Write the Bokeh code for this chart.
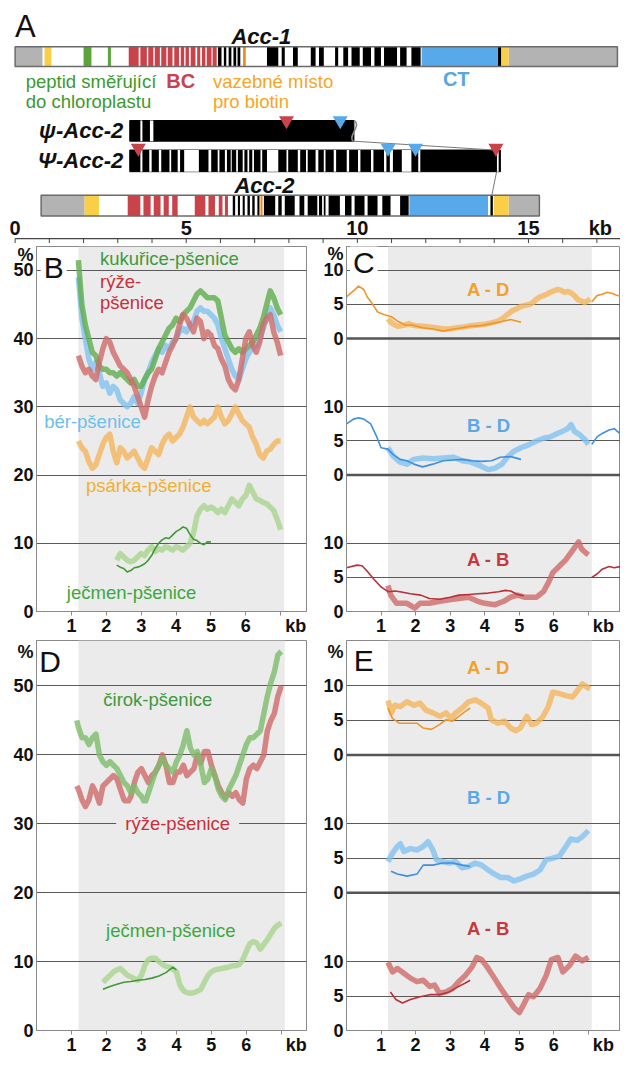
from bokeh.plotting import figure
from bokeh.models import Range1d, Label, BoxAnnotation, Span, FixedTicker
from bokeh.layouts import column, row
from bokeh.embed import file_html
from bokeh.resources import INLINE
from bokeh.core.properties import value

FONT = "Liberation Sans"
NAN = float("nan")

# ---------------- Panel A : gene maps (positions in kb) ----------------
ACC1_SPAN = (0.0, 17.6)
ACC1_GRAY = [(0.0, 0.8), (14.42, 17.6)]
ACC1_YELLOW = [(0.86, 1.06), (14.2, 14.42)]
ACC1_GREEN = [(2.0, 2.23), (2.71, 2.8)]
ACC1_RED = [(3.32, 3.61), (3.66, 3.85), (3.89, 4.04), (4.08, 4.23), (4.27, 4.42), (4.46, 4.60),
            (4.65, 4.79), (4.84, 4.94), (4.98, 5.08), (5.13, 5.27), (5.32, 5.41), (5.46, 5.56),
            (5.60, 5.74), (5.77, 5.89)]
ACC1_BLACK = [(5.93, 6.03), (6.10, 6.17), (6.24, 6.32), (6.38, 6.46), (6.50, 6.58),
              (7.36, 7.69), (7.79, 7.88), (8.12, 8.26), (8.64, 8.78), (8.88, 9.02), (9.35, 9.44),
              (9.59, 9.73), (9.83, 10.07), (10.16, 10.40), (10.50, 10.69), (10.78, 11.16),
              (11.25, 11.44), (11.58, 11.85), (14.1, 14.2)]
ACC1_ORANGE = [(6.66, 6.74)]
ACC1_BLUE = [(11.88, 14.1)]

PSI_S_SPAN = (3.35, 9.9)
PSI_S_WHITE = [(3.66, 3.72), (3.94, 4.04)]
PSI_S_TRI_RED = [7.93]
PSI_S_TRI_BLUE = [9.5]

PSI_C_SPAN = (3.35, 14.18)
PSI_C_WHITE = [(3.66, 3.72), (3.92, 3.99), (4.20, 4.27), (4.51, 4.56), (4.75, 4.82), (4.94, 5.37),
               (5.65, 5.73), (5.92, 5.97), (6.13, 6.19), (6.30, 6.33), (6.46, 6.51), (6.65, 6.70),
               (6.79, 6.84), (6.93, 6.98), (7.17, 7.22), (7.36, 7.69), (7.93, 7.98), (8.26, 8.33),
               (8.50, 8.55), (8.78, 8.86), (9.02, 9.07), (9.31, 9.38), (9.69, 9.76), (10.02, 10.09),
               (10.40, 10.47), (10.78, 10.85), (10.95, 11.04), (11.30, 11.58), (11.78, 11.84),
               (14.08, 14.13)]
PSI_C_TRI_RED = [3.6, 14.05]
PSI_C_TRI_BLUE = [10.9, 11.7]

ACC2_SPAN = (0.76, 15.32)
ACC2_GRAY = [(0.76, 2.03), (14.42, 15.32)]
ACC2_YELLOW = [(2.03, 2.45), (13.99, 14.42)]
ACC2_RED = [(3.29, 3.66), (3.75, 3.96), (4.05, 4.25), (4.34, 4.49), (4.59, 4.75), (5.25, 5.56),
            (5.65, 5.84), (5.95, 6.06), (6.13, 6.22)]
ACC2_BLACK = [(6.36, 6.43), (6.51, 6.57), (6.65, 6.71), (6.79, 6.86), (6.93, 7.0), (7.08, 7.14),
              (7.27, 7.6), (7.69, 7.79), (7.88, 8.17), (8.31, 8.45), (8.55, 8.83), (8.88, 8.97),
              (9.02, 9.07), (9.16, 9.49), (9.64, 9.83), (9.92, 10.21), (10.3, 10.59), (10.73, 10.97),
              (11.25, 11.5), (13.89, 13.96)]
ACC2_ORANGE = [(7.17, 7.23)]
ACC2_BLUE = [(11.52, 13.82)]

KB_TICKS = list(range(0, 18))
KB_LABEL_POS = [0, 5, 10, 15, 17.1]
KB_LABEL_TXT = ["0", "5", "10", "15", "kb"]

# ---------------- Panel B ----------------
KB_B = [1.2, 1.3, 1.4, 1.5, 1.6, 1.7, 1.8, 1.9, 2.0, 2.1,
        2.2, 2.3, 2.4, 2.5, 2.6, 2.7, 2.8, 2.9, 3.0, 3.1,
        3.2, 3.3, 3.4, 3.5, 3.6, 3.7, 3.8, 3.9, 4.0, 4.1,
        4.2, 4.3, 4.4, 4.5, 4.6, 4.7, 4.8, 4.9, 5.0, 5.1,
        5.2, 5.3, 5.4, 5.5, 5.6, 5.7, 5.8, 5.9, 6.0, 6.1,
        6.2, 6.3, 6.4, 6.5, 6.6, 6.7, 6.8, 6.9, 7.0]
B_MAIZE = [51.5, 45, 42, 40, 38, 37.5, 36, 35.5, 35.5, 35,
           35, 34.5, 35, 34.5, 34, 33.5, 34, 33, 33, 34,
           35, 35.5, 37, 38.5, 39.5, 40.5, 41.5, 42, 43, 42.5,
           43.5, 44, 44.5, 45.5, 46.5, 47, 46.5, 46, 46, 46,
           45.5, 43, 40.5, 39.5, 38.5, 38, 38.5, 38, 38.5, 39,
           39.5, 40.5, 41.5, 43, 45, 47, 46, 44.5, 43.5]
B_BARNYARD = [49, 43, 40, 37, 35.5, 36.5, 35, 33, 33.5, 32,
              33, 32.5, 31, 30.5, 30, 30.5, 31.5, 30.5, 32, 34,
              35, 36.5, 37.5, 38.5, 38, 39, 38.5, 39.5, 40, 41,
              41.5, 41, 42, 42.5, 44, 44.5, 44, 44, 43.5, 43,
              42, 40, 38.5, 37, 35.5, 34.5, 34, 35.5, 37, 38,
              38.5, 39, 40, 41.5, 43, 44.5, 43.5, 42, 41]
B_RICE = [37.5, 36, 35, 35.5, 34.5, 34, 36.5, 38.5, 40, 39.5,
          38, 37, 36, 35.5, 35, 34, 33, 31.5, 30, 28.5,
          31, 33, 34.5, 35.5, 35, 36.5, 38, 39, 40, 42,
          43.5, 43, 42, 41, 43, 42.5, 40, 41, 40.5, 39,
          38.5, 37, 36, 34, 33, 32.5, 34, 37, 40, 41,
          39, 38, 39.5, 42, 43, 43.5, 41, 39.5, 37.5]
B_FOXTAIL = [25, 24, 23.5, 22, 21, 21.5, 23, 24.5, 25.5, 26,
             23.5, 21.8, 24, 23.5, 22.5, 23, 23.5, 22.5, 21.5, 21,
             22.5, 24, 23.5, 23, 24.5, 25.5, 26, 25, 25.5, 26,
             27, 28.5, 30, 28.5, 28, 27.5, 28, 27.5, 28, 28.5,
             30, 28.5, 27.5, 28, 29, 30, 29, 28, 27.5, 27,
             25.5, 24.5, 23, 22.5, 23.5, 23.8, 24.5, 25, 25]
KB_B_BARLEY = [2.3, 2.4, 2.5, 2.6, 2.7, 2.8, 2.9, 3.0, 3.1, 3.2,
               3.3, 3.4, 3.5, 3.6, 3.7, 3.8, 3.9, 4.0, 4.1, 4.2,
               4.3, 4.4, 4.5, 4.6, 4.7, 4.8, 4.9, 5.0, 5.1, 5.2,
               5.3, 5.4, 5.5, 5.6, 5.7, 5.8, 5.9, 6.0, 6.1, 6.2,
               6.3, 6.4, 6.5, 6.6, 6.7, 6.8, 6.9, 7.0]
B_BARLEY = [7.5, 8.5, 8.0, 7.5, 7.3, 7.5, 8.0, 8.5, 8.2, 9.0,
            9.5, 8.8, 9.2, 9.0, 9.5, 9.3, 9.0, 9.5, 9.3, 9.0,
            9.5, 10.0, 11.5, 14.0, 15.0, 15.5, 15.0, 15.3, 15.0, 14.5,
            15.0, 14.5, 15.5, 16.5, 16.0, 15.5, 16.5, 17.0, 18.5, 17.5,
            16.5, 16.3, 16.0, 15.8, 15.3, 14.8, 13.5, 12.0]
KB_B_BARLEY_THIN = [2.3, 2.4, 2.5, 2.6, 2.7, 2.8, 2.9, 3.0, 3.1, 3.2,
                    3.3, 3.4, 3.5, 3.6, 3.7, 3.8, 3.9, 4.0, 4.1, 4.2,
                    4.3, 4.4, 4.5, 4.6, 4.7, 4.8, 4.9, 5.0]
B_BARLEY_THIN = [6.8, 6.5, 6.3, 5.8, 6.0, 6.4, 6.5, 6.7, 7.0, 7.5,
                 8.2, 9.2, 10.0, 10.5, 10.8, 10.7, 11.2, 11.7, 12.0, 12.4,
                 12.2, 11.3, 10.6, 10.4, 10.0, 9.8, 10.2, 10.2]

# ---------------- Panel C (homoeologue divergence, %) ----------------
C_AD_THIN_X = [0.0, 0.2, 0.35, 0.5, 0.6, 0.75, 0.9, 1.1, 1.3, 1.5, 1.7, 1.9, 2.2, 2.5, 2.8, 3.1,
               3.35, 3.6, 3.9, 4.2, 4.5, 4.75, 5.05, NAN, 7.1, 7.25, 7.4, 7.55, 7.7, 7.8, 7.93]
C_AD_THIN_Y = [6.1, 7.0, 7.7, 7.2, 6.1, 5.1, 3.9, 3.5, 3.2, 2.5, 2.0, 2.0, 1.6, 1.4, 1.1, 1.4,
               1.6, 1.8, 1.9, 2.2, 2.5, 2.8, 2.4, NAN, 5.4, 6.3, 6.5, 6.8, 6.6, 6.4, 6.2]
C_AD_X = [1.2, 1.3, 1.4, 1.5, 1.6, 1.7, 1.8, 1.9, 2.0, 2.2, 2.4, 2.6, 2.8, 3.0, 3.2, 3.4, 3.6,
          3.8, 4.0, 4.2, 4.4, 4.5, 4.6, 4.7, 4.8, 4.9, 5.0, 5.1, 5.2, 5.3, 5.4, 5.5, 5.6, 5.7,
          5.8, 5.9, 6.0, 6.1, 6.2, 6.3, 6.4, 6.5, 6.6, 6.7, 6.8, 6.9, 7.0, 7.05]
C_AD_Y = [2.9, 2.3, 2.0, 1.8, 1.9, 2.0, 2.2, 2.0, 1.9, 1.8, 1.7, 1.6, 1.4, 1.4, 1.6, 1.7, 1.9,
          2.0, 2.1, 2.3, 2.6, 2.9, 3.3, 3.7, 4.1, 4.3, 4.6, 4.8, 4.9, 5.0, 5.3, 5.8, 6.1, 6.3,
          6.5, 6.8, 7.0, 7.2, 7.1, 6.8, 6.9, 6.7, 6.3, 5.7, 5.5, 5.3, 5.6, 5.8]
C_BD_THIN_X = [0.0, 0.2, 0.35, 0.5, 0.7, 0.85, 1.0, 1.2, 1.35, 1.55, 1.75, 1.95, 2.2, 2.5, 2.8,
               3.1, 3.35, 3.6, 3.9, 4.2, 4.45, 4.75, 5.05, NAN, 7.1, 7.25, 7.4, 7.6, 7.75, 7.93]
C_BD_THIN_Y = [7.5, 8.2, 8.4, 8.2, 7.5, 5.9, 4.0, 3.8, 3.0, 2.3, 2.1, 1.6, 1.2, 1.6, 2.1,
               2.2, 2.3, 2.1, 2.0, 2.1, 2.6, 2.7, 2.3, NAN, 4.5, 5.6, 6.1, 6.6, 6.8, 6.0]
C_BD_X = [1.2, 1.35, 1.55, 1.75, 1.95, 2.2, 2.5, 2.8, 3.1, 3.35, 3.6, 3.9, 4.1, 4.3, 4.5, 4.65,
          4.85, 5.05, 5.3, 5.5, 5.7, 5.9, 6.1, 6.25, 6.4, 6.5, 6.6, 6.75, 6.9, 7.0]
C_BD_Y = [4.0, 2.8, 1.9, 1.6, 2.3, 2.5, 2.4, 2.5, 2.6, 2.1, 1.9, 1.3, 0.8, 1.0, 1.6, 2.6,
          3.5, 4.0, 4.5, 5.0, 5.4, 5.6, 6.1, 6.4, 6.8, 7.4, 6.4, 5.9, 5.2, 4.5]
C_AB_THIN_X = [0.0, 0.3, 0.45, 0.6, 0.8, 1.0, 1.2, 1.4, 1.55, 1.85, 2.15, 2.4, 2.7, 3.0, 3.25,
               3.55, 3.8, 4.1, 4.4, 4.6, 4.75, 4.95, 5.13, NAN, 7.1, 7.25, 7.4, 7.6, 7.75, 7.93]
C_AB_THIN_Y = [6.4, 6.8, 6.7, 5.9, 4.7, 3.6, 2.9, 3.0, 2.9, 2.6, 2.4, 1.9, 1.8, 2.1, 2.4,
               2.5, 2.6, 2.7, 2.9, 3.1, 3.0, 2.5, 2.3, NAN, 5.0, 5.5, 6.2, 6.6, 6.4, 6.6]
C_AB_X = [1.2, 1.28, 1.45, 1.75, 1.98, 2.13, 2.4, 2.7, 2.97, 3.25, 3.53, 3.8, 4.0, 4.3, 4.55,
          4.75, 4.95, 5.15, 5.3, 5.5, 5.7, 5.85, 5.97, 6.15, 6.35, 6.55, 6.72, 6.8, 6.9, 7.0]
C_AB_Y = [3.8, 2.4, 1.2, 1.2, 0.5, 1.2, 1.2, 1.5, 1.7, 1.9, 2.1, 1.5, 1.2, 1.0, 1.5,
          2.1, 2.4, 2.1, 2.1, 2.1, 2.9, 4.3, 5.7, 6.6, 7.6, 9.0, 10.2, 9.2, 8.7, 8.3]

# ---------------- Panel D ----------------
KB_D = [1.15, 1.2, 1.3, 1.4, 1.5, 1.6, 1.7, 1.8, 1.9, 2.0, 2.1,
        2.2, 2.3, 2.4, 2.5, 2.6, 2.7, 2.8, 2.9, 3.0, 3.1,
        3.2, 3.3, 3.4, 3.5, 3.6, 3.7, 3.8, 3.9, 4.0, 4.1,
        4.2, 4.3, 4.4, 4.5, 4.6, 4.7, 4.8, 4.9, 5.0, 5.1,
        5.2, 5.3, 5.4, 5.5, 5.6, 5.7, 5.8, 5.9, 6.0, 6.1,
        6.2, 6.3, 6.4, 6.5, 6.6, 6.7, 6.8, 6.9, 7.0]
D_SORGHUM = [45, 44, 42.5, 42.5, 41.5, 42.5, 43, 40, 39, 38.5, 39,
             38.5, 38, 37, 36, 35.5, 34.5, 35.5, 34.5, 34, 33,
             34.5, 36, 37.5, 38.5, 39.5, 38.5, 38, 37.5, 39, 40,
             41.5, 43.5, 41, 40, 40.5, 38.5, 36, 36.5, 38, 37,
             35, 34, 33.5, 35, 36, 37, 38.5, 40, 41.5, 42.5,
             42.5, 43, 43.5, 46, 48.5, 50.5, 52, 54.5, 55]
D_RICE = [35.5, 35, 33.5, 32.5, 33.5, 35.5, 34.5, 33, 35.5, 36, 36.5,
          37, 36.5, 35, 33.5, 33, 34, 36, 37.5, 38, 37,
          36, 37, 37.5, 38.5, 40, 38.5, 36, 36, 37.5, 37.5,
          38.5, 37, 37.5, 38, 40, 38.8, 40.5, 40.5, 38.5, 37,
          35.5, 34.5, 33.8, 34.5, 34, 34.5, 33.5, 33, 36.5, 38,
          38.5, 38, 39, 40, 43.5, 45, 46, 48.5, 50]
KB_D_BARLEY = [1.9, 2.0, 2.1, 2.2, 2.3, 2.4, 2.5, 2.6, 2.7, 2.8,
               2.9, 3.0, 3.1, 3.2, 3.3, 3.4, 3.5, 3.6, 3.7, 3.8,
               3.9, 4.0, 4.1, 4.2, 4.3, 4.4, 4.5, 4.6, 4.7, 4.8,
               4.9, 5.0, 5.1, 5.2, 5.3, 5.4, 5.5, 5.6, 5.7, 5.8,
               5.9, 6.0, 6.1, 6.2, 6.3, 6.4, 6.5, 6.6, 6.7, 6.8,
               6.9, 7.0]
D_BARLEY = [7.0, 7.5, 8.0, 8.5, 8.8, 9.0, 8.5, 8.0, 7.8, 7.5,
            7.3, 8.0, 9.5, 10.3, 10.5, 10.5, 10.0, 9.6, 9.3, 9.2,
            8.9, 8.5, 6.6, 5.8, 5.5, 5.4, 5.5, 5.7, 6.0, 7.0,
            8.0, 8.5, 8.8, 8.9, 9.0, 9.1, 9.2, 9.4, 9.4, 9.6,
            10.3, 11.5, 12.6, 12.9, 12.7, 11.8, 12.5, 13.2, 14.0, 14.8,
            15.3, 15.6]
KB_D_BARLEY_THIN = [1.9, 2.1, 2.3, 2.5, 2.7, 2.9, 3.1, 3.3, 3.5, 3.7, 3.8, 3.9, 4.0]
D_BARLEY_THIN = [6.0, 6.4, 6.7, 7.0, 7.1, 7.3, 7.4, 7.6, 7.9, 8.4, 8.8, 9.2, 8.8]

# ---------------- Panel E ----------------
E_AD_X = [1.2, 1.3, 1.4, 1.55, 1.75, 1.95, 2.13, 2.3, 2.5, 2.7, 2.88, 3.02, 3.16, 3.35, 3.53,
          3.72, 3.9, 4.1, 4.19, 4.38, 4.57, 4.75, 4.9, 5.03, 5.22, 5.36, 5.5, 5.69, 5.84, 5.97,
          6.16, 6.35, 6.54, 6.68, 6.83, 6.97, 7.05]
E_AD_Y = [7.9, 6.1, 7.2, 7.0, 7.7, 7.2, 7.5, 6.5, 6.1, 5.6, 6.1, 5.3, 6.1, 6.8, 7.7,
          8.0, 7.5, 6.8, 5.1, 4.6, 4.9, 3.9, 3.5, 3.9, 5.6, 4.4, 4.6, 5.6, 7.0, 9.1,
          8.9, 8.6, 8.4, 9.3, 10.3, 9.8, 9.6]
E_AD_THIN_X = [1.2, 1.33, 1.52, 1.75, 2.04, 2.22, 2.46, 2.69, 2.88, 3.07, 3.25, 3.44, 3.58]
E_AD_THIN_Y = [6.8, 5.3, 4.6, 4.6, 4.6, 3.9, 3.7, 4.4, 5.1, 4.9, 5.6, 6.3, 6.8]
E_BD_X = [1.2, 1.33, 1.47, 1.56, 1.66, 1.85, 2.04, 2.22, 2.36, 2.5, 2.6, 2.78, 2.97, 3.16, 3.35,
          3.53, 3.72, 3.91, 4.1, 4.28, 4.47, 4.66, 4.85, 5.03, 5.22, 5.41, 5.6, 5.78, 5.97, 6.16,
          6.35, 6.49, 6.68, 6.82, 7.0]
E_BD_Y = [4.5, 5.7, 6.7, 7.1, 6.0, 6.4, 6.2, 6.7, 7.4, 6.2, 4.8, 4.5, 4.3, 4.5, 3.6,
          3.8, 4.3, 4.0, 3.3, 2.7, 2.2, 2.2, 1.7, 2.0, 2.4, 2.7, 3.3, 4.8, 5.0, 5.3,
          6.7, 7.8, 7.6, 8.1, 9.0]
E_BD_THIN_X = [1.29, 1.47, 1.75, 2.04, 2.22, 2.5, 2.78, 3.07, 3.35, 3.58]
E_BD_THIN_Y = [3.1, 2.7, 2.4, 2.7, 4.0, 4.0, 4.3, 4.3, 4.0, 3.8]
E_AB_X = [1.2, 1.33, 1.47, 1.66, 1.85, 2.04, 2.22, 2.41, 2.55, 2.69, 2.88, 3.07, 3.25, 3.44, 3.63,
          3.77, 3.91, 4.1, 4.28, 4.47, 4.66, 4.85, 5.0, 5.13, 5.27, 5.41, 5.6, 5.78, 5.93, 6.12,
          6.26, 6.45, 6.63, 6.82, 7.0]
E_AB_Y = [9.9, 8.5, 9.0, 8.3, 7.6, 7.1, 7.3, 6.4, 6.6, 5.4, 5.6, 6.1, 7.1, 8.0, 9.2,
          10.6, 10.3, 9.0, 7.6, 6.1, 4.7, 3.3, 2.6, 3.8, 5.2, 4.9, 6.1, 8.0, 10.3, 10.6,
          8.5, 9.4, 10.8, 10.1, 10.6]
E_AB_THIN_X = [1.27, 1.43, 1.62, 1.85, 2.13, 2.41, 2.69, 2.97, 3.25, 3.44, 3.58]
E_AB_THIN_Y = [5.6, 4.5, 4.0, 4.5, 4.9, 5.2, 5.2, 5.6, 6.4, 6.9, 7.3]

# ---------------- colours ----------------
C_GRAY, C_YEL, C_GRN, C_RED, C_ORG, C_BLU = "#b3b3b3", "#f8cf46", "#5ca53c", "#c9434b", "#f38b1d", "#58a9ea"
T_GREEN, T_LGREEN, T_BLUE, T_RED, T_ORANGE = "#5fae4e", "#a9d48f", "#82c2f0", "#cf6a6a", "#f4b55c"
N_GREEN, N_BLUE, N_RED, N_ORANGE = "#3f9a35", "#3f8fde", "#b8303a", "#f0952a"
GRID = "#5a5a5a"
FRAME = "#8a8a8a"
SHADE = "#ebebeb"
KB_TXT = "\u00a0" * 6 + "kb"

# ======================= Panel A =======================
Y_ACC1 = (47, 67)
Y_PSI_S = (122, 143)
Y_PSI_C = (152, 174)
Y_ACC2 = (198, 219)
Y_AXIS = 242

pA = figure(width=620, height=243, x_range=Range1d(-0.427, 17.69), y_range=Range1d(247, 0),
            x_axis_location=None, y_axis_location=None, output_backend="svg",
            toolbar_location=None, min_border=0, outline_line_color=None)
pA.xgrid.visible = False
pA.ygrid.visible = False


def blocks(p, lst, yy, color):
    if not lst:
        return
    p.quad(left=[a for a, b in lst], right=[b for a, b in lst],
           top=[yy[0]] * len(lst), bottom=[yy[1]] * len(lst),
           fill_color=color, line_color=None)


def frame_box(p, span, yy, fill, line, width=1.5):
    p.quad(left=[span[0]], right=[span[1]], top=[yy[0]], bottom=[yy[1]],
           fill_color=fill, line_color=line, line_width=width)


frame_box(pA, ACC1_SPAN, Y_ACC1, "white", None)
for lst, col in [(ACC1_GRAY, C_GRAY), (ACC1_YELLOW, C_YEL), (ACC1_GREEN, C_GRN), (ACC1_RED, C_RED),
                 (ACC1_BLACK, "black"), (ACC1_ORANGE, C_ORG), (ACC1_BLUE, C_BLU)]:
    blocks(pA, lst, Y_ACC1, col)
frame_box(pA, ACC1_SPAN, Y_ACC1, None, "#6b6b6b")

frame_box(pA, PSI_S_SPAN, Y_PSI_S, "black", "black", 1)
blocks(pA, PSI_S_WHITE, Y_PSI_S, "white")
pA.bezier(x0=[PSI_S_SPAN[1]], y0=[Y_PSI_S[0]], x1=[PSI_S_SPAN[1] - 0.02], y1=[Y_PSI_S[1]],
          cx0=[PSI_S_SPAN[1] + 0.25], cy0=[Y_PSI_S[0] + 5], cx1=[PSI_S_SPAN[1] - 0.2], cy1=[Y_PSI_S[1] - 5],
          line_color="#8a8a8a", line_width=1.5)

frame_box(pA, PSI_C_SPAN, Y_PSI_C, "black", "black", 1)
blocks(pA, PSI_C_WHITE, Y_PSI_C, "white")

frame_box(pA, ACC2_SPAN, Y_ACC2, "white", None)
for lst, col in [(ACC2_GRAY, C_GRAY), (ACC2_YELLOW, C_YEL), (ACC2_RED, C_RED),
                 (ACC2_BLACK, "black"), (ACC2_ORANGE, C_ORG), (ACC2_BLUE, C_BLU)]:
    blocks(pA, lst, Y_ACC2, col)
frame_box(pA, ACC2_SPAN, Y_ACC2, None, "#6b6b6b")

pA.segment(x0=[PSI_S_SPAN[1] - 0.02, 14.07], y0=[Y_PSI_S[1], Y_PSI_C[1]],
           x1=[14.0, 13.93], y1=[Y_PSI_C[0], Y_ACC2[0]], line_color="#7a7a7a", line_width=1)

pA.scatter(PSI_S_TRI_RED, [Y_PSI_S[0]] * len(PSI_S_TRI_RED), marker="inverted_triangle", size=15,
           fill_color=C_RED, line_color=None)
pA.scatter(PSI_S_TRI_BLUE, [Y_PSI_S[0]] * len(PSI_S_TRI_BLUE), marker="inverted_triangle", size=15,
           fill_color=C_BLU, line_color=None)
pA.scatter(PSI_C_TRI_RED, [Y_PSI_C[0] - 2] * len(PSI_C_TRI_RED), marker="inverted_triangle", size=15,
           fill_color=C_RED, line_color=None)
pA.scatter(PSI_C_TRI_BLUE, [Y_PSI_C[0] - 2] * len(PSI_C_TRI_BLUE), marker="inverted_triangle", size=15,
           fill_color=C_BLU, line_color=None)

pA.segment(x0=[0], y0=[Y_AXIS], x1=[17.69], y1=[Y_AXIS], line_color="#444444", line_width=1.2)
pA.segment(x0=KB_TICKS, y0=[Y_AXIS] * len(KB_TICKS), x1=KB_TICKS, y1=[Y_AXIS + 5] * len(KB_TICKS),
           line_color="#444444", line_width=1)
pA.text(x=KB_LABEL_POS, y=[231] * len(KB_LABEL_POS), text=KB_LABEL_TXT, text_font=value(FONT),
        text_font_size="20px", text_font_style="bold", text_align="center", text_baseline="middle",
        text_color="#111111")


def atext(p, x, y, t, color, size, style="normal", align="left"):
    p.text(x=[x], y=[y], text=[t], text_font=value(FONT), text_font_size=size,
           text_font_style=style, text_color=color, text_align=align, text_baseline="middle")


atext(pA, 0.0, 26, "A", "#111111", "31px")
atext(pA, 6.32, 37, "Acc-1", "#111111", "22px", "bold italic")
atext(pA, 0.31, 82, "peptid směřující", "#3a9a2e", "18.5px")
atext(pA, 0.31, 103, "do chloroplastu", "#3a9a2e", "18.5px")
atext(pA, 4.42, 82, "BC", C_RED, "20px", "bold")
atext(pA, 5.78, 82, "vazebné místo", "#f5a623", "18.5px")
atext(pA, 5.78, 103, "pro biotin", "#f5a623", "18.5px")
atext(pA, 12.5, 80, "CT", "#5aa6e0", "20px", "bold")
atext(pA, 3.16, 132, "ψ-Acc-2", "#111111", "22px", "bold italic", "right")
atext(pA, 3.16, 163, "Ψ-Acc-2", "#111111", "22px", "bold italic", "right")
atext(pA, 6.41, 188, "Acc-2", "#111111", "22px", "bold italic")


# ======================= Panels B–E =======================
def panel(width, height, xr, yr, bl, br, bt, bb):
    p = figure(width=width, height=height, x_range=Range1d(*xr), y_range=Range1d(*yr),
               output_backend="svg", toolbar_location=None,
               min_border_left=bl, min_border_right=br, min_border_top=bt, min_border_bottom=bb,
               outline_line_color=FRAME, outline_line_width=1)
    p.xgrid.visible = False
    p.ygrid.grid_line_color = GRID
    p.ygrid.grid_line_width = 1.2
    p.xaxis.ticker = FixedTicker(ticks=[1, 2, 3, 4, 5, 6, 7])
    p.xaxis.major_label_overrides = {7: KB_TXT}
    for ax in (p.xaxis, p.yaxis):
        ax.minor_tick_line_color = None
        ax.major_tick_in = 0
        ax.axis_line_color = FRAME
        ax.major_tick_line_color = FRAME
        ax.major_label_text_font = FONT
        ax.major_label_text_font_style = "bold"
        ax.major_label_text_font_size = "18px"
        ax.major_label_text_color = "#111111"
    p.xaxis.major_tick_out = 4
    p.xaxis.major_label_standoff = 0
    p.yaxis.major_tick_out = 0
    p.yaxis.major_label_standoff = 3
    p.add_layout(BoxAnnotation(left=1.2, right=7.1, fill_color=SHADE, fill_alpha=1.0,
                               line_color=None, level="image"))
    return p


def lab(p, x, y, t, color, size="18.5px", style="normal", align="left", bg=None, pad=0):
    kw = {}
    if bg:
        kw = dict(background_fill_color=bg, background_fill_alpha=1.0, padding=pad)
    p.add_layout(Label(x=x, y=y, text=t, text_font=FONT, text_font_size=size, text_font_style=style,
                       text_color=color, text_align=align, text_baseline="middle", **kw))


def thick(p, x, y, color, **kw):
    p.line(x, y, line_width=5.5, line_color=color, line_alpha=0.8, line_join="round", **kw)


def thin(p, x, y, color, **kw):
    p.line(x, y, line_width=1.6, line_color=color, line_join="round", **kw)


# ---- B ----
pB = panel(310, 395, (0, 7.74), (0, 53.5), 36, 4, 3, 24)
pB.yaxis.ticker = FixedTicker(ticks=[0, 10, 20, 30, 40, 50, 52.3])
pB.yaxis.major_label_overrides = {52.3: "%"}
pB.ygrid.ticker = FixedTicker(ticks=[10, 20, 30, 40, 50])
thick(pB, KB_B, B_FOXTAIL, T_ORANGE)
thick(pB, KB_B_BARLEY, B_BARLEY, T_LGREEN)
thin(pB, KB_B_BARLEY_THIN, B_BARLEY_THIN, N_GREEN)
thick(pB, KB_B, B_BARNYARD, T_BLUE)
thick(pB, KB_B, B_MAIZE, T_GREEN)
thick(pB, KB_B, B_RICE, T_RED)
lab(pB, 0.12, 50.4, "B", "#111111", "30px", bg="white", pad=3)
lab(pB, 1.82, 51.8, "kukuřice-pšenice", "#3c9a3c")
lab(pB, 1.82, 48.3, "rýže-", "#c8303a")
lab(pB, 1.82, 45.3, "pšenice", "#c8303a")
lab(pB, 0.22, 27.8, "bér-pšenice", "#6cc0ec")
lab(pB, 1.42, 18.5, "psárka-pšenice", "#f2b030")
lab(pB, 0.87, 2.8, "ječmen-pšenice", "#3ca83c")


def homoeo_panel(width, height, top, bb, bt, pct):
    p = panel(width, height, (0, 7.93), (0, top), 36, 0, bt, bb)
    p.extra_y_ranges = {"ad": Range1d(-40, top - 40), "bd": Range1d(-20, top - 20)}
    p.yaxis.ticker = FixedTicker(ticks=[0, 5, 10, 20, 25, 30, 40, 45, 50, pct])
    p.yaxis.major_label_overrides = {20: "0", 25: "5", 30: "10", 40: "0", 45: "5", 50: "10", pct: "%"}
    p.ygrid.ticker = FixedTicker(ticks=[5, 10, 25, 30, 45, 50])
    for loc in (20, 40):
        p.add_layout(Span(location=loc, dimension="width", line_color="#555555", line_width=2.5))
    return p


# ---- C ----
pC = homoeo_panel(310, 395, 53.5, 24, 3, 52.5)
thick(pC, C_AD_X, C_AD_Y, T_ORANGE, y_range_name="ad")
thin(pC, C_AD_THIN_X, C_AD_THIN_Y, N_ORANGE, y_range_name="ad")
thick(pC, C_BD_X, C_BD_Y, T_BLUE, y_range_name="bd")
thin(pC, C_BD_THIN_X, C_BD_THIN_Y, N_BLUE, y_range_name="bd")
thick(pC, C_AB_X, C_AB_Y, T_RED)
thin(pC, C_AB_THIN_X, C_AB_THIN_Y, N_RED)
lab(pC, 0.1, 51.1, "C", "#111111", "30px", bg="white", pad=3)
lab(pC, 4.11, 47.2, "A - D", "#f5a02a", "18.5px", "bold", "center")
lab(pC, 4.11, 27.3, "B - D", "#5aa8e8", "18.5px", "bold", "center")
lab(pC, 4.11, 7.6, "A - B", "#c8383c", "18.5px", "bold", "center")

# ---- D ----
pD = panel(310, 419, (0, 7.72), (0, 56.6), 36, 4, 2, 24)
pD.yaxis.ticker = FixedTicker(ticks=[0, 10, 20, 30, 40, 50, 55])
pD.yaxis.major_label_overrides = {55: "%"}
pD.ygrid.ticker = FixedTicker(ticks=[10, 20, 30, 40, 50])
thick(pD, KB_D_BARLEY, D_BARLEY, T_LGREEN)
thin(pD, KB_D_BARLEY_THIN, D_BARLEY_THIN, N_GREEN)
thick(pD, KB_D, D_RICE, T_RED)
thick(pD, KB_D, D_SORGHUM, "#7dbb6a")
lab(pD, 0.08, 53.6, "D", "#111111", "30px")
lab(pD, 1.91, 48.0, "čirok-pšenice", "#3c9a3c")
lab(pD, 2.28, 30.1, "rýže-pšenice", "#c8303a", bg=SHADE, pad=9)
lab(pD, 1.99, 14.5, "ječmen-pšenice", "#3ca83c")

# ---- E ----
pE = homoeo_panel(310, 419, 56.6, 24, 2, 55)
thick(pE, E_AD_X, E_AD_Y, T_ORANGE, y_range_name="ad")
thin(pE, E_AD_THIN_X, E_AD_THIN_Y, N_ORANGE, y_range_name="ad")
thick(pE, E_BD_X, E_BD_Y, T_BLUE, y_range_name="bd")
thin(pE, E_BD_THIN_X, E_BD_THIN_Y, N_BLUE, y_range_name="bd")
thick(pE, E_AB_X, E_AB_Y, T_RED)
thin(pE, E_AB_THIN_X, E_AB_THIN_Y, N_RED)
lab(pE, 0.21, 53.7, "E", "#111111", "30px")
lab(pE, 4.11, 52.7, "A - D", "#f5a02a", "18.5px", "bold", "center")
lab(pE, 4.11, 33.8, "B - D", "#5aa8e8", "18.5px", "bold", "center")
lab(pE, 4.11, 14.8, "A - B", "#c8383c", "18.5px", "bold", "center")

layout = column(pA, row(pB, pC), row(pD, pE))
open("out.html", "w").write(file_html(layout, INLINE))
